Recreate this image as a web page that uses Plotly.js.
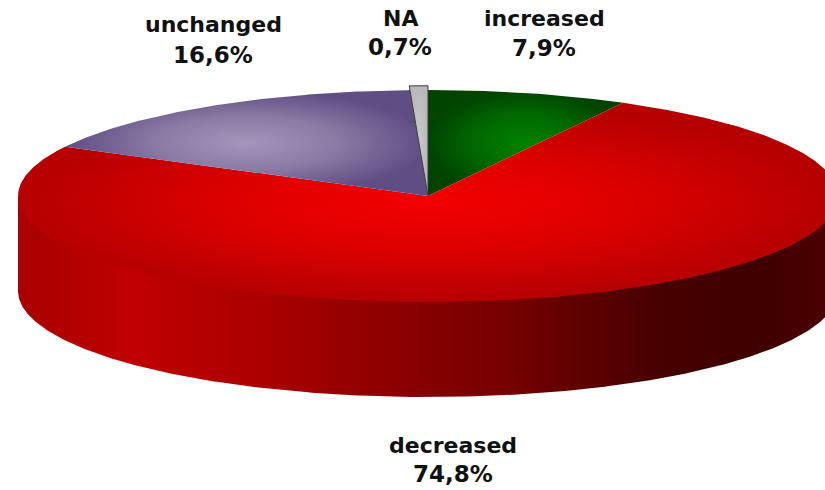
<!DOCTYPE html>
<html>
<head>
<meta charset="utf-8">
<script src="https://cdn.plot.ly/plotly-3.0.1.min.js"></script>
<style>html,body{margin:0;padding:0;background:#fff}</style>
</head>
<body>
<div id="chart" style="width:825px;height:490px"></div>
<script>
// Share of cases per outcome, clockwise from twelve o'clock
const categories = ['increased', 'decreased', 'unchanged', 'NA'];
const shares = [7.9, 74.8, 16.6, 0.7];

// Each wedge is lit from its middle and falls off towards its edges
const sliceScales = [
  [[0, '#008200'], [0.55, '#006800'], [1, '#004400']],
  [[0, '#f40000'], [0.5, '#dc0000'], [0.85, '#c00000'], [1, '#b60000']],
  [[0, '#a496bc'], [0.5, '#8a7aa5'], [1, '#5e4e84']],
  [[0, '#cacaca'], [1, '#b8b8b8']]
];
const sideScale = [
  [0, '#a80000'], [0.14, '#c00000'], [0.3, '#ab0000'], [0.42, '#930000'],
  [0.6, '#750000'], [0.78, '#480000'], [0.9, '#3e0000'], [1, '#4e0000']
];
const labelAnchors = [[544, 18, 48], [453, 445, 474], [213, 25, 55], [400, 18, 47]];

// The disc is a unit circle squashed by the axis ranges; depth is in the same y units
const width = 825, height = 490;
const radiusX = 410, radiusY = 106, centerX = 428, centerY = 196;
const depth = 95 / radiusY;
const xRange = [-centerX / radiusX, (width - centerX) / radiusX];
const yRange = [-(height - centerY) / radiusY, centerY / radiusY];

function rim(fromDeg, toDeg, scale, drop) {
  const xs = [], ys = [];
  const steps = Math.max(2, Math.ceil(Math.abs(toDeg - fromDeg) * 2));
  for (let i = 0; i <= steps; i++) {
    const a = (fromDeg + (toDeg - fromDeg) * i / steps) * Math.PI / 180;
    xs.push(scale * Math.sin(a));
    ys.push(scale * Math.cos(a) - drop);
  }
  return {xs, ys};
}

const traces = [];

// Front wall of the cylinder; it runs up behind the top face so no seam shows
const lower = rim(90, 270, 1, depth);
traces.push({
  type: 'scatter', mode: 'lines', hoverinfo: 'skip', showlegend: false,
  x: lower.xs.concat([-1, 1]), y: lower.ys.concat([0, 0]),
  fill: 'toself', line: {width: 0, color: 'rgba(0,0,0,0)'},
  fillgradient: {type: 'horizontal', colorscale: sideScale, start: -1, stop: 1}
});

// Top face, one wedge per category
let running = 0;
shares.forEach((value, i) => {
  const from = running * 3.6;
  const to = (running + value) * 3.6;
  running += value;
  const isSmall = value < 1;
  const edge = rim(from, to, isSmall ? 1.04 : 1, 0);
  traces.push({
    type: 'scatter', mode: 'lines', hoverinfo: 'skip', showlegend: false,
    name: categories[i],
    x: [0].concat(edge.xs, [0]), y: [0].concat(edge.ys, [0]),
    fill: 'toself',
    line: isSmall ? {width: 1, color: '#3c3c44'} : {width: 0, color: 'rgba(0,0,0,0)'},
    fillgradient: {type: 'radial', colorscale: sliceScales[i]}
  });
});

// Two-line captions: category name over its share
const fontFamily = '"DejaVu Sans", Verdana, sans-serif';
const nameFont = {family: fontFamily, size: 22, color: '#111'};
const shareFont = {family: fontFamily, size: 23, color: '#111'};
const annotations = [];
categories.forEach((name, i) => {
  const [cx, y1, y2] = labelAnchors[i];
  const share = shares[i].toFixed(1).replace('.', ',') + '%';
  [[name, y1, nameFont], [share, y2, shareFont]].forEach(([text, y, font]) => annotations.push({
    xref: 'paper', yref: 'paper', x: cx / width, y: 1 - y / height,
    xanchor: 'center', yanchor: 'middle', showarrow: false,
    text: '<b>' + text + '</b>', font
  }));
});

const layout = {
  width, height,
  margin: {l: 0, r: 0, t: 0, b: 0},
  paper_bgcolor: '#fff', plot_bgcolor: '#fff',
  showlegend: false,
  xaxis: {range: xRange, visible: false, fixedrange: true},
  yaxis: {range: yRange, visible: false, fixedrange: true},
  annotations
};

Plotly.newPlot('chart', traces, layout, {staticPlot: true, displayModeBar: false});
</script>
</body>
</html>
